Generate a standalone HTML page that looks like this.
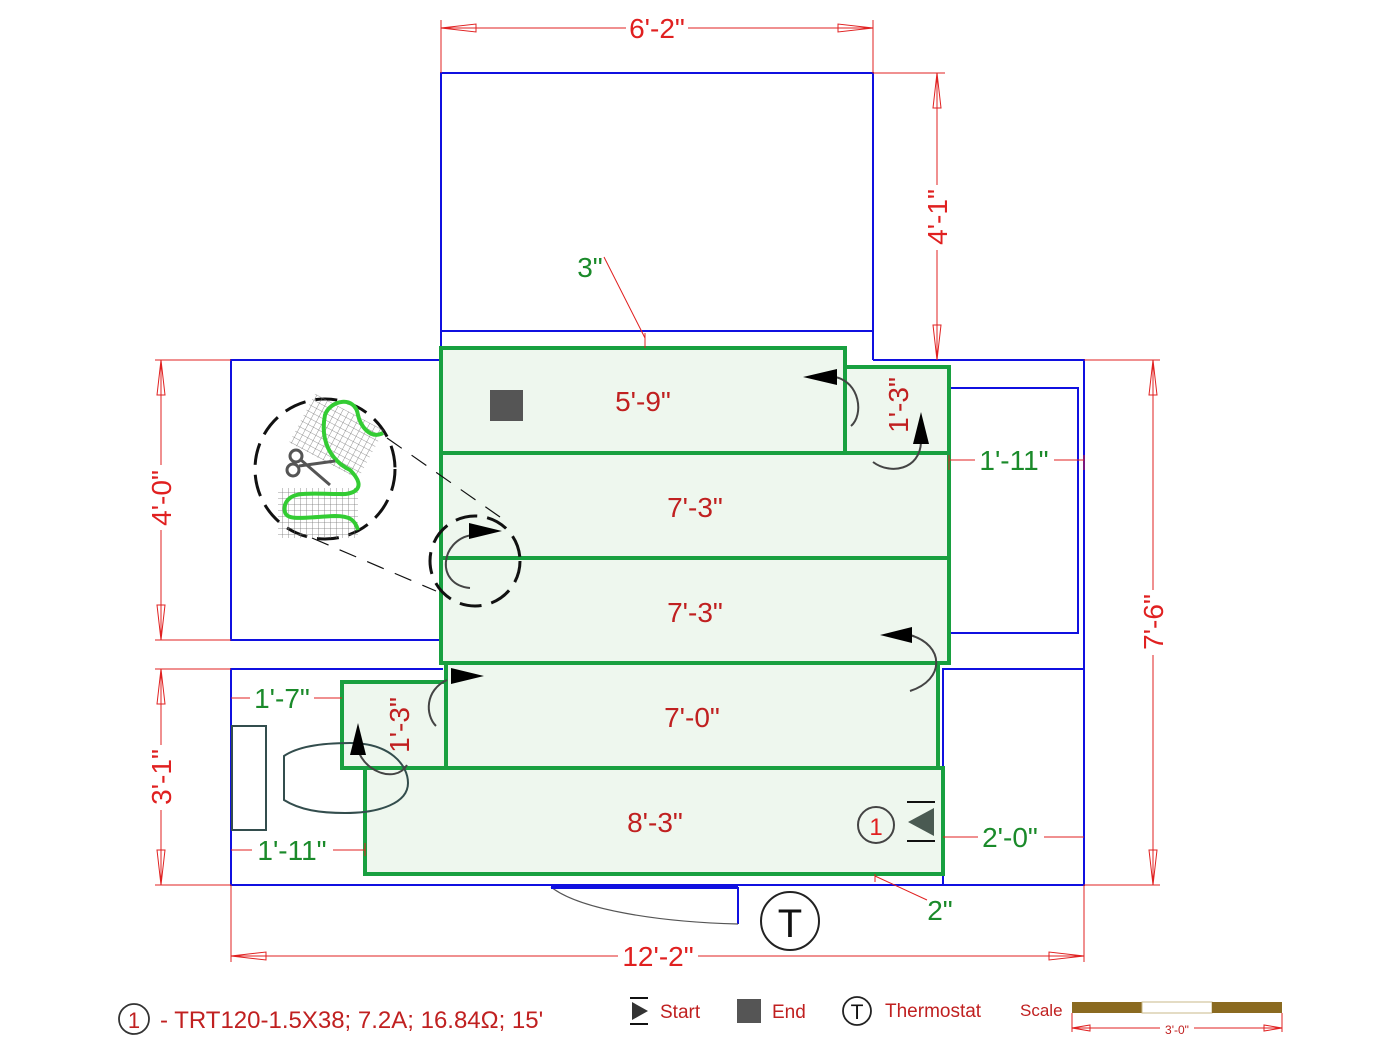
<!DOCTYPE html>
<html><head><meta charset="utf-8"><style>
html,body{margin:0;padding:0;background:#fff;}
svg{display:block;}
text{font-family:"Liberation Sans",sans-serif;}
</style></head><body>
<svg width="1400" height="1049" viewBox="0 0 1400 1049" xmlns="http://www.w3.org/2000/svg">
<defs>
<pattern id="grid" width="6" height="6" patternUnits="userSpaceOnUse">
<path d="M6 0H0V6" fill="none" stroke="#777" stroke-width="0.8"/>
</pattern>
</defs>
<g fill="none" stroke="#1010e0" stroke-width="2">
<path d="M441 360V73H873V360"/>
<path d="M441 331H873"/>
<path d="M441 360H231V640H441"/>
<path d="M873 360H1084V885H231V669H443"/>
<path d="M950 388H1078V633H950"/>
<path d="M943 885V669H1084"/>
<path d="M738 887V924"/>
<path d="M551 887C580 910 660 922 738 924" stroke="#555" stroke-width="1.2"/>
</g>
<path d="M551 887H738" stroke="#1010e0" stroke-width="4"/>
<g fill="#eef7ee" stroke="#18a040" stroke-width="4">
<rect x="441" y="348" width="404" height="105"/>
<rect x="845" y="367" width="104" height="86"/>
<rect x="441" y="453" width="508" height="105"/>
<rect x="441" y="558" width="508" height="105"/>
<rect x="446" y="663" width="492" height="105"/>
<rect x="342" y="682" width="104" height="86"/>
<rect x="365" y="768" width="578" height="106"/>
</g>
<g fill="none" stroke="#334d4d" stroke-width="2">
<rect x="232" y="726" width="34" height="104"/>
<path d="M284 756C300 745 330 743 350 743C390 743 408 765 408 783C408 803 380 813 345 813C320 813 300 810 284 800Z"/>
</g>
<g stroke="#e02020" stroke-width="1" fill="none">
<path d="M441 20V73M873 20V73M441 28H626M688 28H873"/>
<path d="M441 28L476 24V32Z M873 28L838 24V32Z"/>
<path d="M873 73H945M937 73V185M937 250V360"/>
<path d="M937 73L933 108H941Z M937 360L933 325H941Z"/>
<path d="M155 360H231M155 640H231M161 360V465M161 530V640"/>
<path d="M161 360L157 395H165Z M161 640L157 605H165Z"/>
<path d="M155 669H231M155 885H231M161 669V745M161 810V885"/>
<path d="M161 669L157 704H165Z M161 885L157 850H165Z"/>
<path d="M1084 360H1160M1084 885H1160M1153 360V590M1153 655V885"/>
<path d="M1153 360L1149 395H1157Z M1153 885L1149 850H1157Z"/>
<path d="M231 885V962M1084 885V962M231 956H618M698 956H1084"/>
<path d="M231 956L266 952V960Z M1084 956L1049 952V960Z"/>
<path d="M604 257L645 338M645 333V348"/>
<path d="M949 460H975M1054 460H1084M949 455V470M1084 455V470"/>
<path d="M231 698H250M314 698H342"/>
<path d="M231 850H252M333 850H365M365 843V856"/>
<path d="M943 837H978M1044 837H1084"/>
<path d="M875 876L927 900M875 874V882"/>
</g>
<g fill="#e02020" font-size="28" text-anchor="middle">
<text x="657" y="38">6'-2"</text>
<text x="658" y="966">12'-2"</text>
<text transform="translate(947,217) rotate(-90)">4'-1"</text>
<text transform="translate(171,498) rotate(-90)">4'-0"</text>
<text transform="translate(171,777) rotate(-90)">3'-1"</text>
<text transform="translate(1163,622) rotate(-90)">7'-6"</text>
</g>
<g fill="#c02020" font-size="28" text-anchor="middle">
<text x="643" y="411">5'-9"</text>
<text x="695" y="517">7'-3"</text>
<text x="695" y="622">7'-3"</text>
<text x="692" y="727">7'-0"</text>
<text x="655" y="832">8'-3"</text>
<text transform="translate(908,405) rotate(-90)">1'-3"</text>
<text transform="translate(409,725) rotate(-90)">1'-3"</text>
</g>
<g fill="#1a8a2a" font-size="28" text-anchor="middle">
<text x="590" y="277">3"</text>
<text x="1014" y="470">1'-11"</text>
<text x="282" y="708">1'-7"</text>
<text x="292" y="860">1'-11"</text>
<text x="1010" y="847">2'-0"</text>
<text x="940" y="920">2"</text>
</g>
<rect x="490" y="390" width="33" height="31" fill="#555"/>
<g fill="none" stroke="#444" stroke-width="2">
<path d="M835 377C860 382 864 415 851 426"/>
<path d="M873 462C890 475 920 470 921 442"/>
<path d="M910 635C945 645 945 680 910 691"/>
<path d="M447 680C425 690 425 715 436 726"/>
<path d="M357 745C360 770 395 785 407 765"/>
<path d="M472 535C440 540 435 585 470 588"/>
</g>
<g fill="#000">
<path d="M803 377L837 369V385Z"/>
<path d="M921 412L913 444H929Z"/>
<path d="M880 635L912 627V643Z"/>
<path d="M484 676L451 668V684Z"/>
<path d="M358 723L350 755H366Z"/>
<path d="M502 531L469 523V539Z"/>
</g>
<g fill="none" stroke="#111" stroke-width="3" stroke-dasharray="22 10">
<circle cx="475" cy="561" r="45"/>
<circle cx="325" cy="469" r="70"/>
</g>
<g stroke="#111" stroke-width="1.2" stroke-dasharray="18 12">
<path d="M387 438L500 517"/>
<path d="M312 538L436 591"/>
</g>
<g transform="rotate(28 335 435)"><rect x="298" y="408" width="78" height="55" fill="url(#grid)"/></g>
<rect x="278" y="488" width="80" height="50" fill="url(#grid)"/>
<path d="M383 433C370 440 360 425 358 415C355 395 330 400 325 415C320 440 330 460 350 470C370 490 350 495 340 494C310 494 290 490 285 505C282 522 295 518 335 516C350 516 355 520 358 530" fill="none" stroke="#33cc33" stroke-width="4"/>
<g stroke="#555" stroke-width="3" fill="none">
<circle cx="296" cy="456" r="6"/>
<circle cx="293" cy="470" r="6"/>
<path d="M301 460L330 485M299 466L335 461"/>
</g>
<path d="M908 822L934 808V836Z" fill="#4a5a52"/>
<path d="M907 802H935M907 841H935" stroke="#111" stroke-width="2"/>
<circle cx="876" cy="825" r="18" fill="none" stroke="#444" stroke-width="2"/>
<text x="876" y="835" font-size="24" fill="#e02020" text-anchor="middle">1</text>
<circle cx="790" cy="921" r="29" fill="#fff" stroke="#222" stroke-width="2"/>
<text x="790" y="937" font-size="40" fill="#111" text-anchor="middle">T</text>
<circle cx="134" cy="1019" r="15" fill="none" stroke="#333" stroke-width="1.8"/>
<text x="134" y="1028" font-size="22" fill="#c02020" text-anchor="middle">1</text>
<text x="160" y="1028" font-size="24" fill="#c02020">- TRT120-1.5X38; 7.2A; 16.84Ω; 15'</text>
<path d="M632 1002L648 1011L632 1020Z" fill="#333"/>
<path d="M630 998H648M630 1024H648" stroke="#111" stroke-width="2"/>
<text x="660" y="1018" font-size="19" fill="#c02020">Start</text>
<rect x="737" y="999" width="24" height="24" fill="#555"/>
<text x="772" y="1018" font-size="19" fill="#c02020">End</text>
<circle cx="857" cy="1011" r="14" fill="none" stroke="#222" stroke-width="1.8"/>
<text x="857" y="1019" font-size="21" fill="#111" text-anchor="middle">T</text>
<text x="885" y="1017" font-size="19" fill="#c02020">Thermostat</text>
<text x="1020" y="1016" font-size="17" fill="#c02020">Scale</text>
<rect x="1072" y="1002" width="70" height="11" fill="#8a6a20"/>
<rect x="1142" y="1002" width="70" height="11" fill="#fff" stroke="#c8b88a" stroke-width="1"/>
<rect x="1212" y="1002" width="70" height="11" fill="#8a6a20"/>
<g stroke="#e02020" stroke-width="1" fill="none">
<path d="M1072 1013V1032M1282 1013V1032M1072 1028H1160M1194 1028H1282"/>
<path d="M1072 1028L1090 1025V1031Z M1282 1028L1264 1025V1031Z"/>
</g>
<text x="1177" y="1034" font-size="12" fill="#c02020" text-anchor="middle">3'-0"</text>
</svg>
</body></html>
